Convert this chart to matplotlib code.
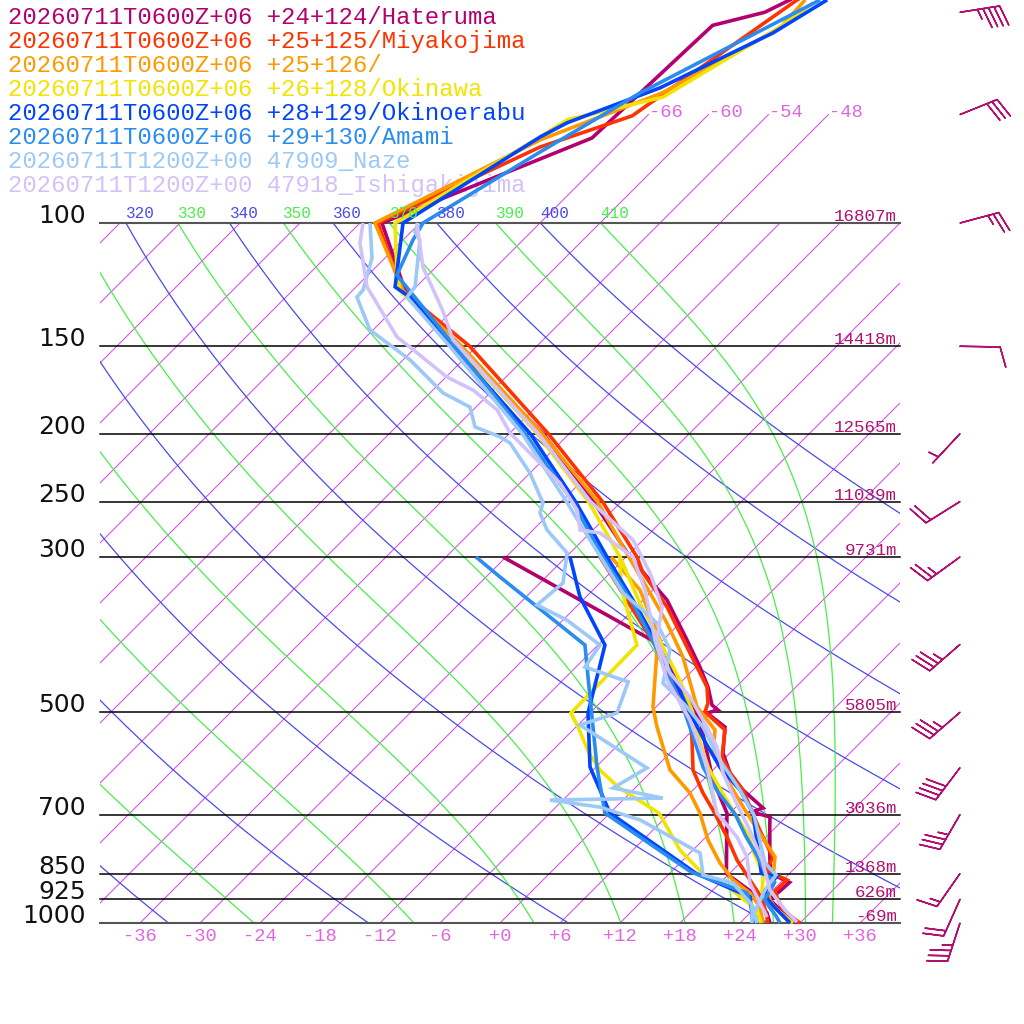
import numpy as np
import matplotlib
matplotlib.use("Agg")
import matplotlib.pyplot as plt
from matplotlib.patches import Rectangle

# ---------------------------------------------------------------- data
legend_labels = [
    "20260711T0600Z+06 +24+124/Hateruma",
    "20260711T0600Z+06 +25+125/Miyakojima",
    "20260711T0600Z+06 +25+126/",
    "20260711T0600Z+06 +26+128/Okinawa",
    "20260711T0600Z+06 +28+129/Okinoerabu",
    "20260711T0600Z+06 +29+130/Amami",
    "20260711T1200Z+00 47909_Naze",
    "20260711T1200Z+00 47918_Ishigakijima",
]
station_colors = ["#b4006e", "#ff3300", "#ff9900", "#f2e400",
                  "#0044ff", "#2a8cf0", "#9cc9f8", "#d2c2fa"]

# Hateruma
hat_T_p = [1000, 975, 950, 925, 900, 875, 850, 800, 725, 705.6, 694, 685, 645.7, 610.5,
           571.7, 524.8, 501.2, 496.3, 488.2, 460.1, 430.9, 394.2, 345.6, 300, 250, 200,
           150, 125, 100, 75.6, 52.2, 50.0, 47.2]
hat_T = [29.7, 27.9, 26.2, 24.6, 24.8, 24.9, 22.1, 20.2, 17.2, 16.4, 14.1, 14.8, 11.0, 8.0,
         5.3, 2.9, -0.3, 0.5, -0.6, -2.8, -5.6, -9.6, -15.6, -23.6, -32.8, -44.6,
         -62.2, -72.7, -81.8, -69.3, -68.5, -64.6, -62.8]
hat_Td_p = [300, 398.1, 439.4, 512.9, 624.9, 696.5, 850, 906.1, 967.6, 1000]
hat_Td = [-36.3, -12.3, -7.7, -0.3, 7.0, 11.7, 17.7, 22.3, 25.7, 27.0]

# Miyakojima
miy_T_p = [1000, 975, 950, 925, 900, 868.1, 840.0, 807.5, 736.9, 645.7, 610.5, 579.2, 530.0,
           499.5, 485.0, 460.1, 403.4, 353.6, 316.2, 300, 250, 200, 150, 125, 100, 77.9,
           70.3, 48.0, 45.7]
miy_T = [30.0, 28.2, 26.6, 25.4, 24.3, 24.4, 21.2, 20.8, 16.7, 11.0, 8.0, 5.6, 3.2,
         -0.6, -1.2, -2.9, -8.9, -14.9, -20.7, -22.9, -31.9, -44.1, -60.7, -73.0, -82.2, -73.6,
         -67.5, -62.6, -60.8]
miy_Td_p = [300, 400, 500, 547.7, 604.5, 652.1, 689.6, 753.6, 812.8, 868.1, 927.1, 1000]
miy_Td = [-26.6, -12.4, -2.1, 0.9, 4.0, 7.3, 10.0, 14.1, 17.4, 20.7, 24.0, 26.8]

# +25+126
p126_T_p = [1000, 950, 925, 900, 850, 804.8, 689.6, 610.5, 571.7, 530.0, 491.4, 416.9, 372.8,
            337.7, 290.3, 250, 200, 150, 125, 100, 76.1, 65.2, 52.6, 48.0]
p126_T = [29.0, 25.9, 24.6, 23.6, 22.4, 20.9, 13.2, 7.3, 4.3, 2.2, -1.9, -8.3, -13.3,
          -18.0, -25.3, -32.4, -44.7, -61.5, -72.9, -82.5, -74.3, -66.8, -61.5, -61.8]
p126_Td_p = [300, 334.4, 394.2, 407.4, 491.4, 524.8, 604.5, 652.1, 696.5, 761.1, 820.9, 868.1,
             906.1, 948.7, 1000]
p126_Td = [-25.5, -19.3, -12.3, -11.6, -6.3, -3.9, 1.7, 6.0, 9.0, 12.5, 16.0, 19.0,
           22.0, 24.4, 26.3]

# Okinawa
oki_T_p = [1000, 950, 925, 900, 850, 800, 750, 700, 650, 600, 550, 500, 450, 400, 350, 300,
           250, 200, 150, 125, 117.9, 100, 75.4, 71.2, 66.1, 52.5, 48.5]
oki_T = [29.3, 25.9, 24.1, 23.0, 21.4, 18.7, 16.1, 12.7, 9.1, 5.3, 1.8, -1.8, -6.3, -11.7,
         -17.9, -24.6, -33.3, -45.2, -61.9, -73.2, -75.3, -80.5, -74.6, -73.6, -66.3, -61.6, -60.7]
oki_Td_p = [300, 331.1, 400.8, 501.2, 524.8, 571.7, 604.5, 639.3, 696.5, 786.6, 859.6, 888.4,
            958.1, 1000]
oki_Td = [-24.6, -21.5, -14.1, -13.9, -11.8, -8.1, -5.3, -1.8, 4.9, 10.7, 16.0, 19.2, 24.4, 26.1]

# Okinoerabu
oke_T_p = [1000, 975, 950, 925, 900, 856.7, 850, 696.5, 645.7, 600, 550, 500, 450, 400, 350,
           300, 250, 200, 150, 127.6, 123.4, 100, 75.4, 71.9, 64.1, 53.5, 48.0]
oke_T = [29.0, 27.5, 25.9, 24.4, 23.3, 23.0, 21.2, 14.3, 10.7, 6.5, 2.3, -2.1, -6.8, -12.1,
         -18.4, -25.9, -34.6, -45.9, -62.4, -71.6, -74.1, -79.7, -74.6, -73.3, -67.5, -61.7, -59.6]
oke_Td_p = [300, 342.2, 400.8, 445.2, 501.2, 598.6, 696.5, 850, 918.0, 1000]
oke_Td = [-29.6, -24.6, -17.3, -14.9, -12.2, -6.6, 0.0, 14.7, 22.4, 25.3]

# Amami
ama_T_p = [1000, 975, 950, 925, 900, 875, 850, 800, 750, 700, 650, 600, 550, 500, 450, 400,
           350, 300, 250, 200, 150, 118.7, 105.8, 100, 79.2, 65.2, 48.0]
ama_T = [28.0, 26.8, 25.4, 24.1, 23.8, 23.4, 21.6, 18.9, 15.8, 12.7, 8.7, 4.8, 1.3, -2.6,
         -7.2, -12.4, -18.6, -26.3, -34.9, -46.4, -62.2, -75.1, -77.0, -77.7, -73.1, -69.0, -60.3]
ama_Td_p = [300, 320.4, 400.8, 445.2, 598.6, 696.5, 845.5, 906.1, 1000]
ama_Td = [-39.0, -34.6, -19.3, -15.8, -5.9, -0.5, 14.0, 21.7, 25.7]

# Naze (observed)
naz_T_p = [100, 103.0, 105.8, 123.4, 127.6, 150, 200, 250, 283.7, 337.7, 372.8, 407.4, 454.1,
           491.4, 524.8, 585.2, 645.7, 701.0, 820.9, 853.9, 897.3, 967.6, 1000]
naz_T = [-78.2, -77.6, -76.3, -72.1, -71.9, -62.7, -46.7, -35.5, -29.3, -20.7, -14.3, -10.3,
         -7.7, -2.9, 0.7, 5.7, 10.7, 14.6, 20.5, 22.8, 23.2, 24.4, 25.7]
naz_Td_p = [100, 112.2, 124.6, 127.6, 142.2, 156.9, 174.9, 183.2, 195.6, 202.1, 206.2, 227.6,
            251.2, 259.6, 274.5, 296.0, 326.8, 351.3, 369.2, 400.8, 430.9, 452.3, 501.2, 521.4,
            600.6, 641.4, 663.1, 667.3, 683.0, 712.5, 794.3, 853.9, 876.9, 942.5, 1000]
naz_Td = [-83.0, -79.3, -77.0, -76.9, -72.3, -65.3, -58.7, -54.6, -52.1, -48.6, -47.0, -42.0,
          -37.7, -37.0, -34.6, -30.3, -27.7, -28.1, -23.6, -17.8, -17.1, -11.3, -9.3, -11.8,
          -0.8, -2.2, 3.8, -7.3, -1.6, 3.7, 13.0, 15.5, 19.3, 23.4, 25.2]

# Ishigakijima (observed)
ish_T_p = [100, 115.6, 133.3, 146.9, 200, 250, 283.7, 316.2, 353.6, 394.2, 439.4, 475.6, 524.8,
           560.5, 610.5, 667.3, 736.9, 812.8, 897.3, 958.1, 996.7]
ish_T = [-78.3, -73.3, -67.0, -63.0, -45.1, -33.1, -25.0, -20.0, -15.4, -12.6, -8.0, -3.6, 1.1,
         4.1, 7.3, 11.2, 15.7, 19.9, 23.7, 27.2, 29.6]
ish_Td_p = [100, 106.8, 123.4, 145.5, 150.4, 166.0, 173.2, 184.9, 199.5, 218.1, 235.2, 257.0,
            274.5, 277.2, 300, 334.4, 394.2, 449.6, 512.9, 585.2, 624.9, 696.5, 753.6, 804.8,
            876.9, 918.0, 980.5]
ish_Td = [-83.7, -82.0, -76.9, -68.9, -66.6, -59.9, -56.0, -51.6, -48.0, -42.6, -38.0, -33.6,
          -31.3, -29.0, -23.3, -18.8, -12.8, -7.6, -1.3, 4.2, 6.7, 10.7, 15.1, 18.1, 21.0, 23.1, 26.1]

soundings = [
    (hat_T_p, hat_T, hat_Td_p, hat_Td),
    (miy_T_p, miy_T, miy_Td_p, miy_Td),
    (p126_T_p, p126_T, p126_Td_p, p126_Td),
    (oki_T_p, oki_T, oki_Td_p, oki_Td),
    (oke_T_p, oke_T, oke_Td_p, oke_Td),
    (ama_T_p, ama_T, ama_Td_p, ama_Td),
    (naz_T_p, naz_T, naz_Td_p, naz_Td),
    (ish_T_p, ish_T, ish_Td_p, ish_Td),
]

# mandatory levels and their heights
level_p = [100, 150, 200, 250, 300, 500, 700, 850, 925, 1000]
level_labels = ["100", "150", "200", "250", "300", "500", "700", "850", "925", "1000"]
height_labels = ["16807m", "14418m", "12565m", "11039m", "9731m", "5805m", "3036m",
                 "1368m", "626m", "-69m"]

# wind barbs
wind_p = [50, 70, 100, 150, 200, 250, 300, 400, 500, 600, 700, 850, 925, 1000]
wind_dir = [81, 68, 75, 91, 223, 238, 234, 229, 229, 217, 210, 215, 204, 198]
wind_spd = [45, 30, 25, 10, 5, 20, 25, 35, 35, 40, 35, 15, 20, 35]

# background grid specs
isotherm_step = 6
dry_thetas = list(range(240, 401, 20))
moist_thetaes = list(range(250, 411, 20))
top_isotherms = [-66, -60, -54, -48]

# ---------------------------------------------------------------- geometry
SKEW = 70.0   # deg C of x-shift per decade of pressure
def sx(T, p):
    return np.asarray(T, float) + SKEW * np.log10(1000.0 / np.asarray(p, float))

fig = plt.figure(figsize=(10.24, 10.24), dpi=100)
ax = fig.add_axes([0, 0, 1, 1])
ax.set_axis_off()
ax.set_yscale("log")
ax.set_xlim(-50.0, 52.4)
ax.set_ylim(1000 * 10 ** (101 / 700), 1000 * 10 ** (-923 / 700))

box = Rectangle((-40, 100), 80, 900, transform=ax.transData, fc="none", ec="none")
labbox = Rectangle((-40, 80), 80, 920, transform=ax.transData, fc="none", ec="none")

MONO = ["Liberation Mono", "DejaVu Sans Mono"]
C_ISO = "#d34ee6"
C_ISO_TXT = "#e066e0"
C_DRY = "#4a4aee"
C_MOIST = "#48ee48"
C_HGT = "#b0106e"

# isotherms
for T in range(-108, 37, isotherm_step):
    ln, = ax.plot(sx([T, T], [1000, 100]), [1000, 100], color=C_ISO, lw=0.75, zorder=1)
    ln.set_clip_path(box)
for T in range(-36, 37, isotherm_step):
    s = ("+%d" % T) if T >= 0 else ("%d" % T)
    ax.annotate(s, (T, 1000), xytext=(0, -10), textcoords="offset points",
                ha="center", va="center", color=C_ISO_TXT, fontsize=13.5, family=MONO)
for T in top_isotherms:
    ax.plot(sx([T, T], [100, 70]), [100, 70], color=C_ISO, lw=0.75, zorder=1)
    ax.annotate("%d" % T, (sx(T, 70), 70), xytext=(0.5, -1.5), textcoords="offset points",
                ha="left", va="baseline", color=C_ISO_TXT, fontsize=13.5, family=MONO)

def theta_label(val, x100, col):
    if x100 < -43.2:          # label would lie wholly left of the diagram
        return
    t = ax.annotate(str(val), (x100, 100), xytext=(0, 3.5), textcoords="offset points",
                    ha="left", va="baseline", color=col, fontsize=11.5, family=MONO,
                    annotation_clip=False)
    t.set_clip_on(True)
    t.set_clip_path(labbox)

# dry adiabats
pp = np.geomspace(1000, 100, 200)
for th in dry_thetas:
    T = th * (pp / 1000.0) ** 0.2857 - 273.15
    ln, = ax.plot(sx(T, pp), pp, color=C_DRY, lw=0.9, zorder=1.1)
    ln.set_clip_path(box)
    theta_label(th, float(sx(T[-1], 100)), C_DRY)

# moist (pseudo) adiabats labelled by theta-e
Rd, Cp, Lv, EPS = 287.04, 1005.7, 2.501e6, 0.622
def es(Tk):
    return 6.112 * np.exp(17.67 * (Tk - 273.15) / (Tk - 29.65))
def rs(Tk, p):
    e = es(Tk)
    return EPS * e / (p - e)
def theta_e(Tk, p):
    rg = rs(Tk, p) * 1000.0
    return (Tk * (1000.0 / p) ** (0.2854 * (1 - 0.28e-3 * rg))
            * np.exp((3.376 / Tk - 0.00254) * rg * (1 + 0.81e-3 * rg)))
def dTdp(Tk, p):
    r = rs(Tk, p)
    return (Rd * Tk + Lv * r) / (Cp + Lv * Lv * r * EPS / (Rd * Tk * Tk)) / p
def moist_profile(the, plev):
    lo, hi = 200.0, 330.0
    for _ in range(60):
        mid = 0.5 * (lo + hi)
        if theta_e(mid, 1000.0) > the:
            hi = mid
        else:
            lo = mid
    Tk = 0.5 * (lo + hi)
    out = [Tk]
    for i in range(1, len(plev)):
        p0, p1 = plev[i - 1], plev[i]
        h = p1 - p0
        k1 = dTdp(Tk, p0)
        k2 = dTdp(Tk + h * k1 / 2, p0 + h / 2)
        k3 = dTdp(Tk + h * k2 / 2, p0 + h / 2)
        k4 = dTdp(Tk + h * k3, p1)
        Tk = Tk + h * (k1 + 2 * k2 + 2 * k3 + k4) / 6
        out.append(Tk)
    return np.array(out)

pm = np.geomspace(1000, 100, 400)
for the in moist_thetaes:
    T = moist_profile(the, pm) - 273.15
    ln, = ax.plot(sx(T, pm), pm, color=C_MOIST, lw=0.9, zorder=1.1)
    ln.set_clip_path(box)
    theta_label(the, float(sx(T[-1], 100)), C_MOIST)

# pressure levels
for p, lab, hl in zip(level_p, level_labels, height_labels):
    edge = p in (100, 1000)
    ax.plot([-40, 40], [p, p], color="#555555" if edge else "black",
            lw=1.5 if edge else 1.1, zorder=1.5)
    ax.text(-41.4, p, lab, ha="right", va="baseline", fontsize=18,
            family=["DejaVu Sans"], color="#111111")
    ax.annotate(hl, (39.7, p), xytext=(0, 1.3), textcoords="offset points",
                ha="right", va="baseline", color=C_HGT, fontsize=12.6, family=MONO)

# soundings
for (tp, tv, dp, dv), col in zip(soundings, station_colors):
    ax.plot(sx(dv, dp), dp, color=col, lw=2.6, zorder=2.2,
            solid_joinstyle="miter", solid_capstyle="butt")
    ax.plot(sx(tv, tp), tp, color=col, lw=2.6, zorder=2.2,
            solid_joinstyle="miter", solid_capstyle="butt")

# legend text
for i, (lab, col) in enumerate(zip(legend_labels, station_colors)):
    ax.text(8 / 1024, 1 - (24 + 24 * i) / 1024, lab, transform=ax.transAxes,
            ha="left", va="baseline", fontsize=17.2, family=MONO, color=col, zorder=1.8)

# wind barbs
wd = np.deg2rad(np.asarray(wind_dir, float))
ws = np.asarray(wind_spd, float)
u = -ws * np.sin(wd)
v = -ws * np.cos(wd)
ax.barbs(np.full(len(wind_p), 46.0), wind_p, u, v, length=7.6, pivot="tip",
         color=C_HGT, linewidth=1.1, zorder=3,
         barb_increments=dict(half=5, full=10, flag=100),
         sizes=dict(emptybarb=0.0, spacing=0.14, height=0.5, width=0.3))

fig.savefig("out.png", dpi=100)
